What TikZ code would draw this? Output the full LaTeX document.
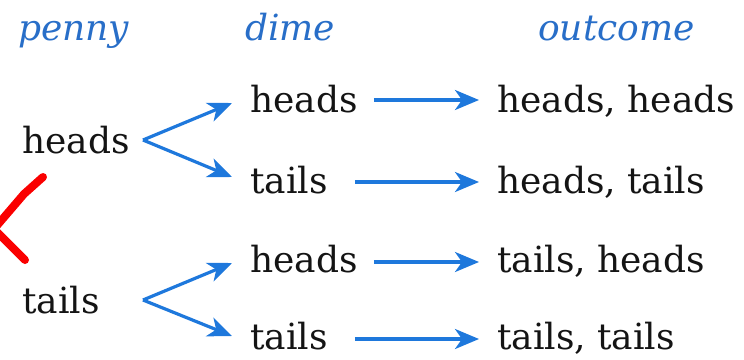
\documentclass[tikz,border=0pt]{standalone}
\usepackage{fontspec}
\setmainfont{DejaVu Serif}
\usetikzlibrary{arrows.meta}
\definecolor{arrowblue}{RGB}{30,120,220}
\definecolor{headblue}{RGB}{40,110,200}
\definecolor{inkred}{RGB}{250,0,0}
\begin{document}
\begin{tikzpicture}[x=1pt,y=-1pt,
  lbl/.style={anchor=base west,inner sep=0pt,font=\fontsize{36}{40}\selectfont,text=black!92},
  hdr/.style={anchor=base west,inner sep=0pt,font=\fontsize{36}{40}\selectfont\itshape,text=headblue},
  arr/.style={draw=arrowblue,line width=3.2pt,-{Stealth[length=24pt,width=20pt,inset=7pt]}}]
\useasboundingbox (0,0) rectangle (744,359);
\clip (0,0) rectangle (744,359);
% headers
\node[hdr] (hp) at (18,40) {penny};
\node[hdr] (hd) at (245,40) {dime};
\node[hdr] (ho) at (538,40) {outcome};
% penny
\node[lbl] (p1) at (22,153) {heads};
\node[lbl] (p2) at (22,313) {tails};
% dime
\node[lbl] (d1) at (250,112) {heads};
\node[lbl] (d2) at (250,193) {tails};
\node[lbl] (d3) at (250,272) {heads};
\node[lbl] (d4) at (250,349) {tails};
% outcome
\node[lbl] (o1) at (497,112) {heads, heads};
\node[lbl] (o2) at (497,193) {heads, tails};
\node[lbl] (o3) at (497,272) {tails, heads};
\node[lbl] (o4) at (497,349) {tails, tails};
% branch vertices
\coordinate (v1) at ([xshift=121pt,yshift=13pt]p1.base west);
\coordinate (v2) at ([xshift=121pt,yshift=13pt]p2.base west);
% branches
\draw[arr] (v1) -- ([xshift=-18pt,yshift=9pt]d1.base west);
\draw[arr] (v1) -- ([xshift=-18pt,yshift=16pt]d2.base west);
\draw[arr] (v2) -- ([xshift=-18pt,yshift=9pt]d3.base west);
\draw[arr] (v2) -- ([xshift=-18pt,yshift=13pt]d4.base west);
% horizontal arrows
\draw[arr] ([xshift=16pt,yshift=12pt]d1.base east) -- ([xshift=-18pt,yshift=12pt]o1.base west);
\draw[arr] ([xshift=27pt,yshift=11pt]d2.base east) -- ([xshift=-18pt,yshift=11pt]o2.base west);
\draw[arr] ([xshift=16pt,yshift=10pt]d3.base east) -- ([xshift=-18pt,yshift=10pt]o3.base west);
\draw[arr] ([xshift=27pt,yshift=10pt]d4.base east) -- ([xshift=-18pt,yshift=10pt]o4.base west);
% red hand-drawn mark
\draw[inkred,line width=8pt,line cap=round,line join=round] (43,177) -- (24,194) -- (-6,229) -- (25,260);
\end{tikzpicture}
\end{document}
